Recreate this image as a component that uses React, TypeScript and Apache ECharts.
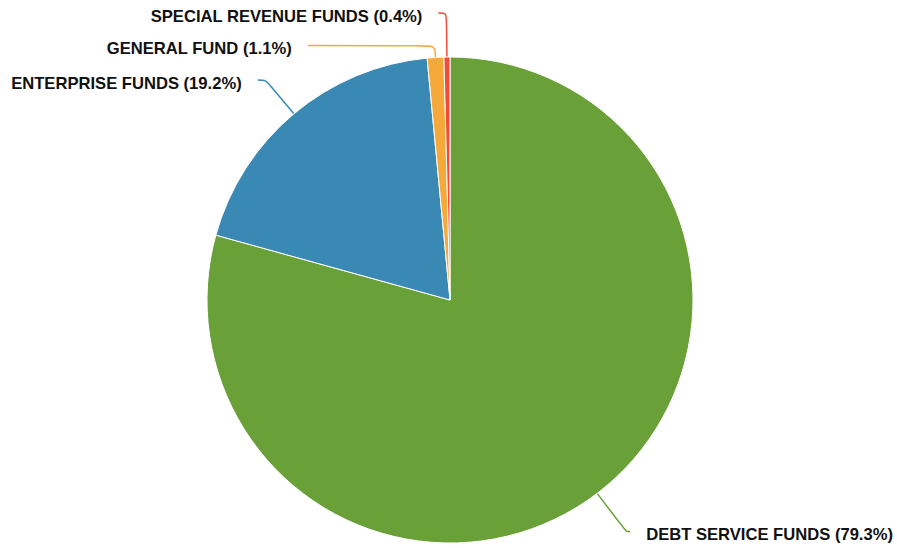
import React, { useEffect, useRef } from "react";
import * as echarts from "echarts";

const categories = [
  "DEBT SERVICE FUNDS",
  "ENTERPRISE FUNDS",
  "GENERAL FUND",
  "SPECIAL REVENUE FUNDS",
];
const values = [79.3, 19.2, 1.1, 0.4];
const colors = ["#6aa038", "#3a89b5", "#f6a93b", "#f14c3a"];
// label line lengths per slice: [radial length, horizontal length]
const lineLengths = [
  [48, 4],
  [44, 8],
  [12, 127],
  [44, 8],
];

export default function App() {
  const ref = useRef<HTMLDivElement>(null);
  useEffect(() => {
    if (!ref.current) return;
    const chart = echarts.init(ref.current, null, { renderer: "svg" });
    chart.setOption({
      animation: false,
      series: [
        {
          type: "pie",
          center: [450, 300],
          radius: 243,
          startAngle: 90,
          clockwise: true,
          avoidLabelOverlap: false,
          itemStyle: { borderColor: "#ffffff", borderWidth: 1 },
          label: {
            show: true,
            position: "outside",
            formatter: (p: any) => `${p.name} (${p.value.toFixed(1)}%)`,
            fontFamily: "'Liberation Sans', Arial, Helvetica, sans-serif",
            fontWeight: "bold",
            fontSize: 16.6,
            color: "#111111",
            offset: [0, 3],
            distanceToLabelLine: 16,
          },
          labelLine: { show: true, smooth: 0.3, lineStyle: { width: 1.5 } },
          emphasis: { disabled: true },
          data: categories.map((name, i) => ({
            name,
            value: values[i],
            itemStyle: { color: colors[i] },
            labelLine: {
              length: lineLengths[i][0],
              length2: lineLengths[i][1],
            },
          })),
        },
      ],
    });
    return () => chart.dispose();
  }, []);
  return (
    <div
      ref={ref}
      style={{ position: "absolute", left: 0, top: 0, width: 897, height: 548 }}
    />
  );
}
